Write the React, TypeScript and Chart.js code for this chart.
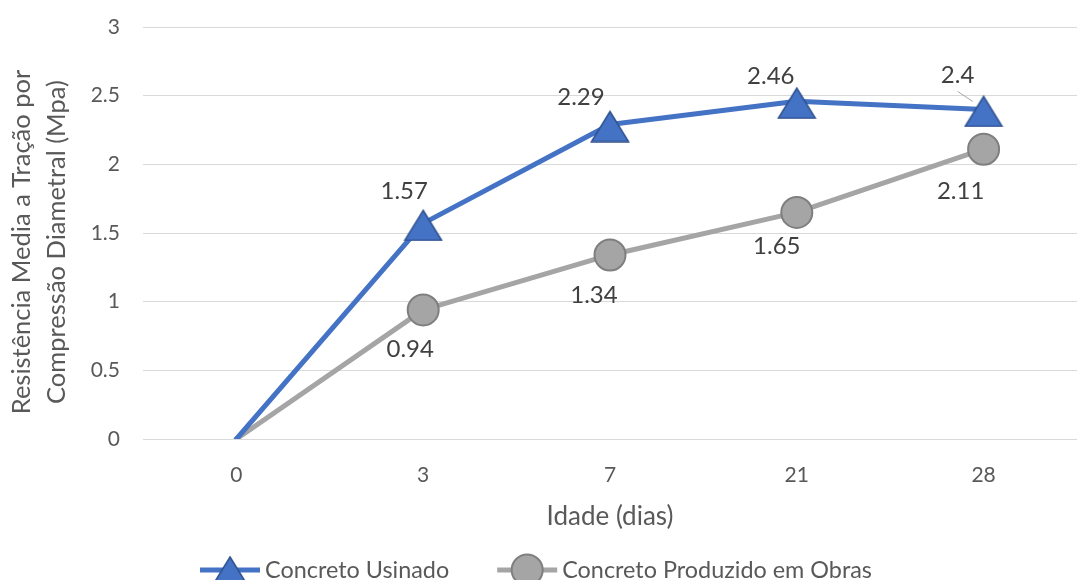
import React, { useEffect, useRef } from "react";
import { Chart, registerables } from "chart.js";

Chart.register(...registerables);

// Idade dos corpos de prova (dias) e resistência média (MPa)
const idades = ["0", "3", "7", "21", "28"];
const concretoUsinado = [0, 1.57, 2.29, 2.46, 2.4];
const concretoObras = [0, 0.94, 1.34, 1.65, 2.11];
const nomeUsinado = "Concreto Usinado";
const nomeObras = "Concreto Produzido em Obras";
const tituloY = ["Resistência Media a Tração por", "Compressão Diametral (Mpa)"];
const tituloX = "Idade (dias)";
const yMin = 0;
const yMax = 3;
const yPasso = 0.5;

// deslocamento (px) de cada rótulo de valor em relação ao seu ponto
const desvioUsinado = [[0, 0], [-19, -32], [-29, -27], [-26, -25], [-26, -34]];
const desvioObras = [[0, 0], [-13, 39], [-16, 40], [-20, 34], [-23, 42]];
// rótulos afastados que recebem linha guia
const guiaUsinado = [false, false, false, false, true];
const guiaObras = [false, false, false, false, false];

const FONTE = "Lato, 'Open Sans', sans-serif";
const AZUL = "#4472C4";
const AZUL_BORDA = "#2F528F";
const CINZA = "#A5A5A5";
const CINZA_BORDA = "#7F7F7F";
const TEXTO_EIXO = "#595959";
const TEXTO_ROTULO = "#404040";
const LARGURA_VISIVEL = 1079;

function marcadorTriangulo(): HTMLCanvasElement {
  const c = document.createElement("canvas");
  c.width = 40;
  c.height = 36;
  const g = c.getContext("2d")!;
  g.beginPath();
  g.moveTo(20, 5);
  g.lineTo(38.5, 35);
  g.lineTo(1.5, 35);
  g.closePath();
  g.fillStyle = AZUL;
  g.fill();
  g.lineWidth = 1.5;
  g.strokeStyle = AZUL_BORDA;
  g.stroke();
  return c;
}

// título vertical do eixo Y, em duas linhas, girado -90°
const tituloEixoY = {
  id: "tituloEixoY",
  afterDraw(chart: any) {
    const ctx = chart.ctx;
    const centroY = (chart.chartArea.top + chart.chartArea.bottom) / 2 + 9;
    const colunas = [22, 57];
    ctx.save();
    ctx.font = `25.5px ${FONTE}`;
    ctx.fillStyle = TEXTO_EIXO;
    ctx.textAlign = "center";
    ctx.textBaseline = "middle";
    tituloY.forEach((linha, i) => {
      ctx.save();
      ctx.translate(colunas[i], centroY);
      ctx.rotate(-Math.PI / 2);
      ctx.fillText(linha, 0, 0);
      ctx.restore();
    });
    ctx.restore();
  },
};

const rotulosValores = {
  id: "rotulosValores",
  afterDatasetsDraw(chart: any) {
    const ctx = chart.ctx;
    const desvios = [desvioUsinado, desvioObras];
    const guias = [guiaUsinado, guiaObras];
    ctx.save();
    ctx.font = `24px ${FONTE}`;
    ctx.textAlign = "center";
    ctx.textBaseline = "middle";
    chart.data.datasets.forEach((ds: any, d: number) => {
      const meta = chart.getDatasetMeta(d);
      meta.data.forEach((pt: any, i: number) => {
        const v = ds.data[i];
        if (!v) return;
        const [dx, dy] = desvios[d][i];
        const x = pt.x + dx;
        const y = pt.y + dy;
        if (guias[d][i]) {
          ctx.strokeStyle = "#A6A6A6";
          ctx.lineWidth = 1;
          ctx.beginPath();
          ctx.moveTo(x, y + 16);
          ctx.lineTo(pt.x - 11, pt.y - 8);
          ctx.stroke();
        }
        ctx.fillStyle = TEXTO_ROTULO;
        ctx.fillText(String(v), x, y);
      });
    });
    ctx.restore();
  },
};

const legendaInferior = {
  id: "legendaInferior",
  afterDraw(chart: any) {
    const ctx = chart.ctx;
    const amostra = 60;
    const espacoTexto = 5;
    const espacoItens = 48;
    const centroX = 536;
    const y = 570;
    ctx.save();
    ctx.font = `23.4px ${FONTE}`;
    const itens = chart.data.datasets.map((ds: any) => ({
      ds,
      w: ctx.measureText(ds.label).width,
    }));
    const total =
      itens.reduce((s: number, it: any) => s + amostra + espacoTexto + it.w, 0) +
      espacoItens * (itens.length - 1);
    let x = centroX - total / 2;
    itens.forEach((it: any) => {
      const ds = it.ds;
      ctx.strokeStyle = ds.borderColor;
      ctx.lineWidth = ds.borderWidth;
      ctx.lineCap = "butt";
      ctx.beginPath();
      ctx.moveTo(x, y);
      ctx.lineTo(x + amostra, y);
      ctx.stroke();
      const cx = x + amostra / 2;
      if (ds.pointStyle instanceof HTMLCanvasElement) {
        const img = ds.pointStyle;
        ctx.drawImage(img, cx - img.width / 2, y - img.height / 2);
      } else {
        ctx.beginPath();
        ctx.arc(cx, y, 15.5, 0, Math.PI * 2);
        ctx.fillStyle = ds.pointBackgroundColor;
        ctx.fill();
        ctx.lineWidth = ds.pointBorderWidth;
        ctx.strokeStyle = ds.pointBorderColor;
        ctx.stroke();
      }
      ctx.fillStyle = TEXTO_EIXO;
      ctx.textAlign = "left";
      ctx.textBaseline = "middle";
      ctx.fillText(ds.label, x + amostra + espacoTexto, y);
      x += amostra + espacoTexto + it.w + espacoItens;
    });
    ctx.restore();
  },
};

export default function App() {
  const canvasRef = useRef<HTMLCanvasElement | null>(null);

  useEffect(() => {
    const canvas = canvasRef.current;
    if (!canvas) return;
    const triangulo = marcadorTriangulo();
    const raio = (r: number) => (ctx: any) => (ctx.dataIndex === 0 ? 0 : r);

    const chart = new Chart(canvas, {
      type: "line",
      data: {
        labels: idades,
        datasets: [
          {
            label: nomeUsinado,
            data: concretoUsinado,
            borderColor: AZUL,
            backgroundColor: AZUL,
            borderWidth: 5,
            borderJoinStyle: "round",
            borderCapStyle: "round",
            pointStyle: triangulo as any,
            pointRadius: raio(18),
            pointHoverRadius: raio(18),
            tension: 0,
          },
          {
            label: nomeObras,
            data: concretoObras,
            borderColor: CINZA,
            backgroundColor: CINZA,
            borderWidth: 5,
            borderJoinStyle: "round",
            borderCapStyle: "round",
            pointStyle: "circle",
            pointRadius: raio(15.5),
            pointHoverRadius: raio(15.5),
            pointBackgroundColor: CINZA,
            pointBorderColor: CINZA_BORDA,
            pointBorderWidth: 2,
            tension: 0,
          },
        ] as any,
      },
      options: {
        animation: false,
        responsive: false,
        maintainAspectRatio: false,
        events: [],
        layout: { padding: { left: 0, right: 7, top: 27, bottom: 46 } },
        plugins: {
          legend: { display: false },
          tooltip: { enabled: false },
        },
        scales: {
          x: {
            offset: true,
            grid: { display: false },
            border: { display: false },
            ticks: {
              color: TEXTO_EIXO,
              font: { family: FONTE, size: 21 },
              padding: 16,
            },
            title: {
              display: true,
              text: tituloX,
              color: TEXTO_EIXO,
              font: { family: FONTE, size: 26, lineHeight: 1.2 },
              padding: { top: 0, bottom: 1.5 },
            },
            afterFit: (s: any) => {
              s.height = 95;
            },
          },
          y: {
            min: yMin,
            max: yMax,
            ticks: {
              stepSize: yPasso,
              color: TEXTO_EIXO,
              font: { family: FONTE, size: 21 },
              padding: 23,
              callback: (v: any) => String(Number(v)),
            },
            grid: { color: "#D9D9D9", lineWidth: 1, drawTicks: false },
            border: { display: false },
            title: { display: false },
            afterFit: (s: any) => {
              s.width = 143;
              s.paddingTop = 0;
              s.paddingBottom = 0;
            },
          },
        },
      } as any,
      plugins: [rotulosValores, legendaInferior, tituloEixoY],
    });

    return () => chart.destroy();
  }, []);

  return (
    <div
      style={{
        position: "fixed",
        left: 0,
        top: 0,
        width: LARGURA_VISIVEL,
        height: 580,
        overflow: "hidden",
        background: "#ffffff",
      }}
    >
      <canvas
        ref={canvasRef}
        width={1100}
        height={580}
        style={{ display: "block", width: 1100, height: 580 }}
      />
    </div>
  );
}
